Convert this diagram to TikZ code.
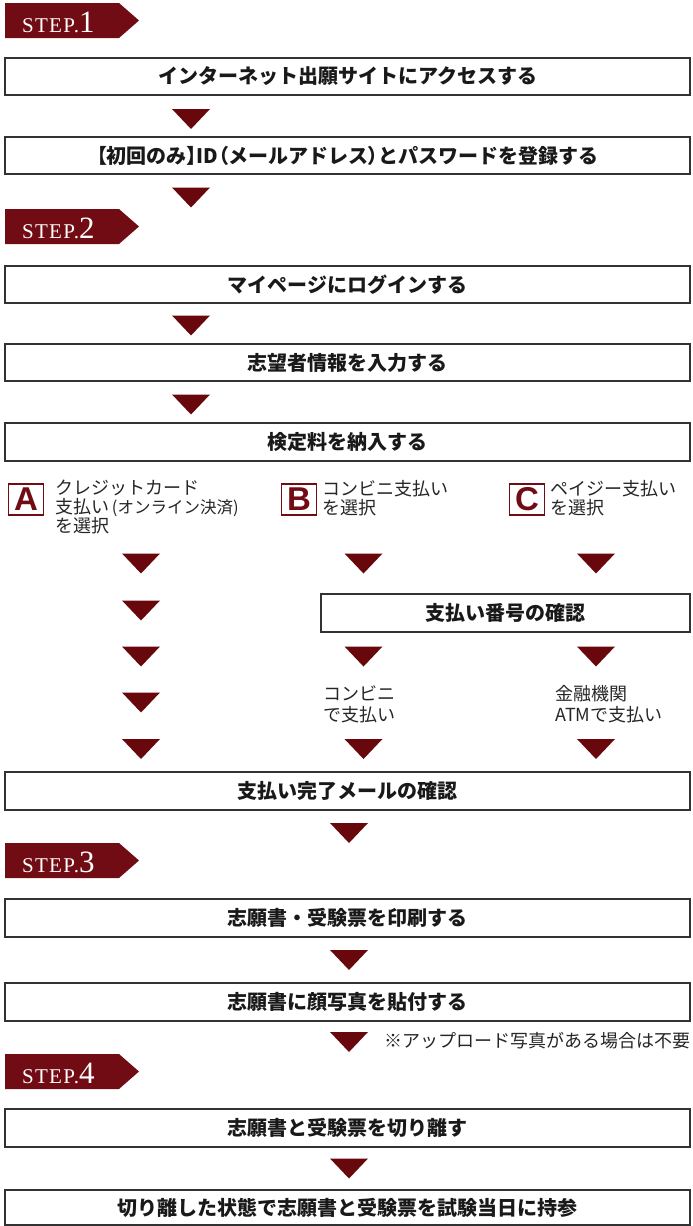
\documentclass[tikz,border=0pt]{standalone}
\usepackage{fontspec}
\newfontfamily\jp{Noto Sans CJK JP}
\newfontfamily\stepfont{Liberation Serif}[LetterSpace=6]
\newfontfamily\letterfont{Liberation Sans}
\definecolor{stepred}{RGB}{114,12,20}
\definecolor{trired}{RGB}{105,8,12}
\definecolor{boxline}{RGB}{50,50,50}
\tikzset{
  mainbox/.style={draw=boxline, line width=1.3pt, fill=white, inner sep=0pt,
    font=\jp\bfseries\fontsize{20}{24}\selectfont, text=black!90},
  lettbox/.style={draw=stepred, line width=1.4pt, minimum width=35pt, minimum height=31pt,
    inner sep=0pt, font=\letterfont\bfseries\fontsize{33}{33}\selectfont, text=stepred},
  note/.style={font=\jp\fontsize{18}{19}\selectfont, text=black!85, align=left, inner sep=0pt},
  steptext/.style={anchor=base west, inner sep=0pt, text=white},
}
\newcommand\flowbox[6]{%
  \node[mainbox, minimum width={#4-#2}, minimum height={#5-#3}] (#1) at ({(#2+#4)/2},{(#3+#5)/2}) {#6};}
\newcommand\dtri[2]{%
  \fill[trired] ({#1-19},{#2-10}) -- ({#1+19},{#2-10}) -- (#1,{#2+10}) -- cycle;}
\newcommand\stepbanner[3]{%
  \fill[stepred] (5,#1) -- (119,#1) -- (139,{#1+17.5}) -- (119,{#1+35}) -- (5,{#1+35}) -- cycle;
  \node[steptext] (#3) at (22,{#1+29}) {{\stepfont\fontsize{21}{21}\selectfont STEP.}{\stepfont\fontsize{31}{31}\selectfont #2}};}
\newcommand\pw[1]{{\addfontfeature{RawFeature=+palt}#1}}
\begin{document}
\begin{tikzpicture}[x=1pt,y=-1pt]
\useasboundingbox[fill=white] (0,0) rectangle (693,1226);

\stepbanner{3}{1}{s1}
\flowbox{b1}{5}{58}{690}{95}{インターネット出願サイトにアクセスする}
\dtri{191}{119}
\flowbox{b2}{5}{137}{690}{174}{\pw{【}初回のみ\pw{】}ID\pw{（}メールアドレス\pw{）}とパスワードを登録する}
\dtri{191}{197.5}

\stepbanner{209}{2}{s2}
\flowbox{b3}{5}{266}{690}{303}{マイページにログインする}
\dtri{191}{325.5}
\flowbox{b4}{5}{344}{690}{381}{志望者情報を入力する}
\dtri{191}{404.5}
\flowbox{b5}{5}{423}{690}{461}{検定料を納入する}

% A B C
\node[lettbox] (la) at (26,499.5) {A};
\node[note, anchor=north west] (ta) at (55,480) {クレジットカード\\支払い{\fontsize{16.5}{16.5}\selectfont\,(オンライン決済)}\\を選択};
\node[lettbox] (lb) at (299,499.5) {B};
\node[note, anchor=north west] (tb) at (322,480) {コンビニ支払い\\を選択};
\node[lettbox] (lc) at (527,499.5) {C};
\node[note, anchor=north west] (tc) at (550,480) {ペイジー支払い\\を選択};

% column A
\dtri{141}{563.5}
\dtri{141}{610.5}
\dtri{141}{656.5}
\dtri{141}{702.5}
\dtri{141}{749}
% column B / C
\dtri{363.5}{563.5}
\dtri{596}{563.5}
\flowbox{bn}{321}{594}{690}{632}{支払い番号の確認}
\dtri{363.5}{656.5}
\dtri{596}{656.5}
\node[note, anchor=north west, font=\jp\fontsize{18}{21}\selectfont] (tk) at (323,685) {コンビニ\\で支払い};
\node[note, anchor=north west, font=\jp\fontsize{18}{21}\selectfont] (tm) at (555,685) {金融機関\\ATMで支払い};
\dtri{363.5}{749}
\dtri{596}{749}

\flowbox{b6}{5}{772}{690}{810}{支払い完了メールの確認}
\dtri{349}{833}

\stepbanner{843}{3}{s3}
\flowbox{b7}{5}{899}{690}{937}{志願書・受験票を印刷する}
\dtri{349}{960}
\flowbox{b8}{5}{983}{690}{1021}{志願書に顔写真を貼付する}
\dtri{349}{1042}
\node[note, anchor=west, font=\jp\fontsize{18}{18}\selectfont] (nt) at (384,1041) {※アップロード写真がある場合は不要};

\stepbanner{1054}{4}{s4}
\flowbox{b9}{5}{1109}{690}{1147}{志願書と受験票を切り離す}
\dtri{349}{1168.5}
\flowbox{b10}{5}{1190}{690}{1225}{切り離した状態で志願書と受験票を試験当日に持参}
\end{tikzpicture}
\end{document}
